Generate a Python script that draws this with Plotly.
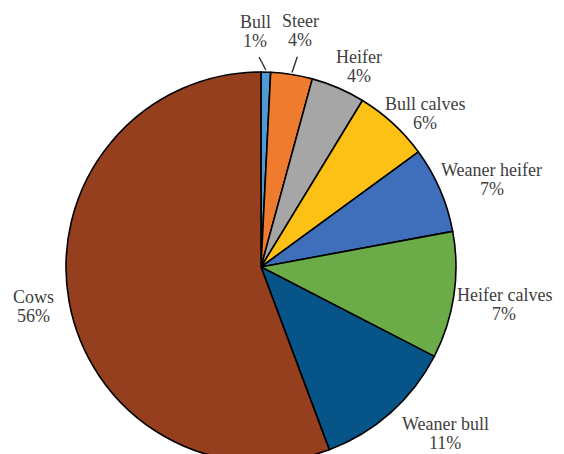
import math
import plotly.graph_objects as go

categories = ["Bull", "Steer", "Heifer", "Bull calves", "Weaner heifer",
              "Heifer calves", "Weaner bull", "Cows"]
shares = [0.79, 3.45, 4.47, 6.25, 7.12, 10.5, 11.73, 55.7]
pct_labels = ["1%", "4%", "4%", "6%", "7%", "7%", "11%", "56%"]

# ---- style / layout -------------------------------------------------------
colors = ["#4F9AD6", "#EE7B2E", "#A6A6A6", "#FDC115", "#3F6FBA",
          "#6BAC48", "#075489", "#953F1F"]
W, H = 564, 454
OFF = 8                            # page body margin of the browser (px)
cx, cy, r = 261, 267, 195          # pie centre (window px) and radius
FONT = "Liberation Serif"
FS = 18
TXT = "#404040"
GAP = 5
HALF_H = 21                        # half height of a two-line label
LINE_SEP = 19                      # distance between the two label lines
leader = {"Bull", "Steer"}         # labels drawn with a leader line
nudge = {                          # fine placement tweaks (px, screen coords)
    "Bull": (-11, -15), "Steer": (5, -18), "Heifer": (10, 2),
    "Bull calves": (1, 9), "Heifer calves": (-2, 5), "Weaner bull": (22, 1),
    "Cows": (-11, 0),
}

# Times-like advance widths (per 1000 em) for label width estimation
_w = {"B": 667, "u": 500, "l": 278, "S": 556, "t": 278, "e": 444, "r": 333,
      "H": 722, "i": 278, "f": 333, "c": 444, "a": 444, "v": 500, "s": 389,
      "W": 944, "n": 500, "h": 500, "b": 500, "C": 667, "o": 500, "w": 722,
      " ": 250, "%": 833}


def text_w(s):
    return sum(_w.get(ch, 500) for ch in s) / 1000 * FS


def px(x):
    return (x - OFF) / W


def py(y):
    return 1 - (y - OFF) / H


fcx, fcy = cx - OFF, cy - OFF
fig = go.Figure(go.Pie(
    labels=categories,
    values=shares,
    text=pct_labels,
    textinfo="none",
    marker=dict(colors=colors, line=dict(color="#000000", width=1.6)),
    sort=False,
    direction="clockwise",
    rotation=0,
    hoverinfo="label+text",
    domain=dict(x=[(fcx - r) / W, (fcx + r) / W],
                y=[max(0, (H - fcy - r) / H), (H - fcy + r) / H]),
    showlegend=False,
))

total = sum(shares)
cum = 0.0
annotations, shapes = [], []
for name, v, pct in zip(categories, shares, pct_labels):
    mid = math.radians((cum + v / 2) / total * 360)
    cum += v
    s, c = math.sin(mid), math.cos(mid)
    ex, ey = cx + r * s, cy - r * c
    hw = max(text_w(name), text_w(pct)) / 2
    lx = ex + (hw + GAP) * s
    ly = ey - (HALF_H + GAP) * c
    dx, dy = nudge.get(name, (0, 0))
    lx, ly = lx + dx, ly + dy
    for txt, yy in ((name, ly - LINE_SEP / 2), (pct, ly + LINE_SEP / 2)):
        annotations.append(dict(
            x=px(lx), y=py(yy), xref="paper", yref="paper",
            xanchor="center", yanchor="middle", showarrow=False,
            text=txt, align="center",
            font=dict(family=FONT, size=FS, color=TXT),
        ))
    if name in leader:
        tx = lx + 0.35 * (ex - lx)
        ty = ly + HALF_H + GAP
        bx, by = cx + (r + 2) * s, cy - (r + 2) * c
        shapes.append(dict(
            type="line", xref="paper", yref="paper",
            x0=px(bx), y0=py(by), x1=px(tx), y1=py(ty),
            line=dict(color="#262626", width=1.3),
        ))

fig.update_layout(
    width=W, height=H,
    margin=dict(l=0, r=0, t=0, b=0),
    paper_bgcolor="white",
    annotations=annotations,
    shapes=shapes,
    font=dict(family=FONT, size=FS, color=TXT),
)

fig.write_html("out.html")
